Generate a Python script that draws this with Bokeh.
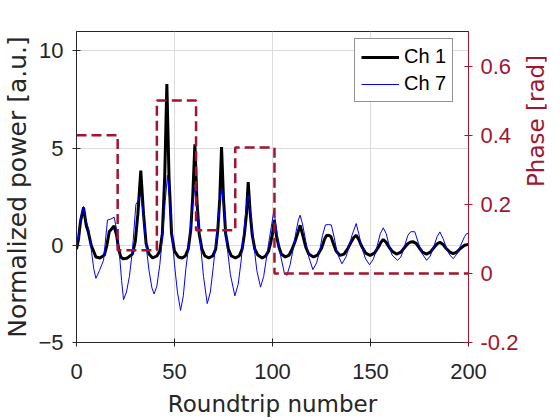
import math
from bokeh.plotting import figure
from bokeh.models import Range1d, LinearAxis, Legend, LegendItem, FixedTicker
from bokeh.embed import file_html
from bokeh.resources import INLINE

# ---- data ----
roundtrip_ch1 = [0, 1, 2, 3.6, 5, 6, 7.5, 9.9, 12, 14.2, 15.5, 16.7, 18, 19.2, 20.5, 21.5, 22.6, 24, 26,
                 28.5, 30, 31.3, 32.8, 34.2, 35.5, 37, 38.8, 41, 42.5, 43.8, 45, 46.1, 47.2, 48.5, 50, 52,
                 53.9, 55.5, 57, 58.3, 59.3, 60.4, 61.5, 62.6, 64, 65.5, 67.5, 69.5, 71, 72.1, 73.1, 74, 75,
                 76.1, 77.5, 79, 81.1, 83, 84.5, 85.7, 86.7, 87.6, 88.6, 89.7, 91, 92.5, 94.7, 96.5, 98, 99,
                 100, 100.9, 102, 103.3, 104.5, 106.5, 108.5, 110, 111.5, 112.8, 114.1, 115.5, 117, 118.5,
                 120.9, 123, 125, 126.5, 127.5, 128.6, 129.8, 131, 132.5, 134.5, 136.5, 138.5, 140, 141.5,
                 142.7, 144, 145.5, 147.5, 149.8, 152, 154, 155.3, 156.5, 158, 159.5, 161, 163.3, 165.5,
                 167.5, 169, 170.5, 171.8, 173.3, 175, 176.5, 178.6, 180.5, 182.5, 184, 185.4, 187, 188.5,
                 190.5, 192.2, 194, 196, 198, 200]
power_ch1 = [-0.2, 0.3, 1.2, 1.95, 1.0, 0.7, 0.0, -0.6, -0.65, -0.5, 0.0, 0.7, 0.85, 1.0, 0.5, -0.2, -0.6, -0.7, -0.65,
             -0.45, 0.2, 1.6, 3.85, 1.6, 0.1, -0.45, -0.65, -0.55, -0.3, 0.6, 3.5, 8.3, 3.5, 0.6, -0.3, -0.6,
             -0.65, -0.55, -0.2, 0.8, 2.5, 5.2, 2.2, 0.6, -0.2, -0.55, -0.65, -0.55, -0.2, 0.8, 2.4, 5.05, 2.4,
             0.6, -0.2, -0.55, -0.65, -0.55, -0.2, 0.6, 1.6, 3.25, 1.7, 0.5, -0.2, -0.5, -0.65, -0.55, -0.3, 0.1,
             0.6, 1.3, 0.5, -0.1, -0.45, -0.6, -0.5, -0.2, 0.2, 0.6, 1.03, 0.5, -0.1, -0.45,
             -0.6, -0.5, -0.15, 0.3, 0.5, 0.52, 0.45, 0.1, -0.3, -0.52, -0.45, -0.15, 0.15, 0.4,
             0.52, 0.3, -0.05, -0.4, -0.52, -0.4, -0.1, 0.15, 0.3, 0.15, -0.1, -0.3, -0.45, -0.35,
             -0.1, 0.08, 0.17, 0.18, 0.1, -0.15, -0.35, -0.45, -0.35, -0.1, 0.08, 0.15, 0.05, -0.15,
             -0.35, -0.43, -0.35, -0.15, 0.0, 0.05]

roundtrip_ch7 = [0, 1, 2, 3.6, 4.8, 6.3, 7.5, 8.8, 9.9, 11.7, 13.8, 15.8, 17.5, 19.2, 20.5, 21.8, 23, 24, 25.5,
                 27, 28.5, 30.3, 31.5, 32.8, 34, 35.5, 37, 38.5, 39.6, 41, 42.5, 44, 45.3, 46.4, 47.5, 48.8,
                 50, 51.5, 53.1, 54.5, 55.8, 57.3, 58.8, 60.4, 61.7, 63.3, 64.8, 66.7, 68.3, 69.8, 71.3, 72.8,
                 74, 75.3, 76.8, 78.5, 80.8, 82.5, 84, 85.5, 86.6, 87.6, 88.8, 90.3, 92, 93.9, 95.5, 97, 98.5,
                 99.8, 100.7, 101.8, 103, 104.5, 106, 107.3, 109, 110.5, 112, 113.2, 114.1, 115.3, 117, 118.5,
                 120.6, 122.5, 124, 125.5, 127, 128.5, 130, 131.5, 133, 135.4, 137.5, 139, 140.5, 142.7, 144,
                 145.5, 147.5, 149.5, 151.5, 153.5, 155, 156.5, 158, 159.5, 161, 163.8, 165.5, 167.5, 169,
                 170.5, 172.6, 174.5, 176.5, 178.6, 180.5, 182.5, 184, 185.4, 187, 189, 190.5, 192.2, 194,
                 196, 198, 199, 200]
power_ch7 = [-0.1, 0.4, 1.4, 2.0, 1.3, 0.8, -0.2, -1.2, -1.7, -1.3, -0.77, 1.3, 1.35, 1.45, 0.8, -0.3, -1.8, -2.8, -2.4,
             -1.6, -0.3, 2.1, 2.3, 2.6, 1.6, 0.0, -1.3, -2.2, -2.5, -2.1, -1.0, 0.6, 2.3, 3.6, 2.4, 0.5,
             -1.0, -2.4, -3.35, -2.6, -1.2, 0.0, 1.7, 3.0, 1.7, 0.0, -1.6, -3.0, -2.4, -1.1, 0.3, 1.9,
             3.0, 1.8, 0.0, -1.5, -2.6, -2.0, -0.8, 0.8, 2.0, 2.6, 1.7, 0.2, -1.3, -2.15, -1.6, -0.6, 0.4,
             1.2, 1.8, 1.0, 0.1, -0.7, -1.4, -1.55, -1.0, -0.2, 0.7, 1.3, 1.55, 1.1, 0.2, -0.6,
             -1.25, -0.9, -0.3, 0.5, 1.05, 1.07, 1.05, 0.4, -0.4, -0.95, -0.6, -0.1, 0.5, 1.12, 0.6,
             -0.1, -0.7, -1.0, -0.7, 0.0, 0.6, 0.9, 0.6, 0.0, -0.5, -0.77, -0.6, 0.0, 0.5,
             0.7, 0.7, 0.1, -0.45, -0.77, -0.55, 0.0, 0.45, 0.69, 0.35, -0.2, -0.5, -0.69, -0.45,
             0.0, 0.45, 0.6, 0.6]

phase_roundtrip = [0, 21, 41, 61, 81, 101, 200]
phase_rad = [0.4, 0.067, 0.5, 0.125, 0.364, 0.0, 0.0]

x_ticks = [0, 50, 100, 150, 200]
power_ticks = [-5, 0, 5, 10]
phase_ticks = [-0.2, 0, 0.2, 0.4, 0.6]
phase_tick_labels = ["-0.2", "0", "0.2", "0.4", "0.6"]

# ---- styling ----
DARK = "#262626"
RED = "#A2142F"
TICK_FONT = "Liberation Sans"
LABEL_FONT = "DejaVu Sans"

p = figure(frame_width=392, frame_height=311,
           x_range=Range1d(0, 200), y_range=Range1d(-5, 11),
           output_backend="svg", toolbar_location=None,
           min_border_left=70, min_border_right=92, min_border_top=31, min_border_bottom=80)
p.background_fill_color = "white"
p.border_fill_color = "white"
p.outline_line_color = DARK
p.outline_line_width = 1

p.extra_y_ranges = {"phase": Range1d(-0.2, 0.7)}

# grids
p.xgrid.ticker = FixedTicker(ticks=x_ticks)
p.ygrid.ticker = FixedTicker(ticks=power_ticks)
p.grid.grid_line_color = "#dcdcdc"
p.grid.grid_line_width = 1

xa = p.xaxis[0]
xa.ticker = FixedTicker(ticks=x_ticks)
xa.axis_label = "Roundtrip number"
ya = p.yaxis[0]
ya.ticker = FixedTicker(ticks=power_ticks)
ya.axis_label = "Normalized power [a.u.]"

for ax in (xa, ya):
    ax.axis_line_color = DARK
    ax.major_tick_line_color = DARK
    ax.major_tick_in = 4
    ax.major_tick_out = 4
    ax.minor_tick_line_color = None
    ax.major_label_text_font = TICK_FONT
    ax.major_label_text_font_size = "22px"
    ax.major_label_text_color = DARK
    ax.axis_label_text_font = LABEL_FONT
    ax.axis_label_text_font_style = "normal"
    ax.axis_label_text_color = DARK

xa.major_label_standoff = 17
xa.axis_label_text_font_size = "23px"
xa.axis_label_standoff = 9
ya.major_label_standoff = 9
ya.axis_label_text_font_size = "25px"
ya.axis_label_standoff = 3

# right axis (phase)
ra = LinearAxis(y_range_name="phase", axis_label="Phase [rad]")
ra.ticker = FixedTicker(ticks=phase_ticks)
ra.major_label_overrides = {t: s for t, s in zip(phase_ticks, phase_tick_labels)}
ra.axis_line_color = RED
ra.major_tick_line_color = RED
ra.major_tick_in = 4
ra.major_tick_out = 4
ra.minor_tick_line_color = None
ra.major_label_text_font = TICK_FONT
ra.major_label_text_font_size = "22px"
ra.major_label_text_color = RED
ra.major_label_standoff = 8
ra.axis_label_text_font = LABEL_FONT
ra.axis_label_text_font_size = "23px"
ra.axis_label_text_font_style = "normal"
ra.axis_label_text_color = RED
ra.axis_label_standoff = 15
if "axis_label_orientation" in ra.properties():
    ra.axis_label_orientation = math.pi / 2
p.add_layout(ra, "right")

# data lines
r1 = p.line(roundtrip_ch1, power_ch1, line_color="black", line_width=3)
r7 = p.line(roundtrip_ch7, power_ch7, line_color="#0000FF", line_width=1)
rp = p.step(phase_roundtrip, phase_rad, mode="after", y_range_name="phase",
            line_color=RED, line_width=2.5, line_dash="10 5")

legend = Legend(items=[LegendItem(label="Ch 1", renderers=[r1]),
                       LegendItem(label="Ch 7", renderers=[r7])],
                location=(278, 240))
legend.glyph_width = 38
legend.glyph_height = 22
legend.label_height = 22
legend.label_standoff = 5
legend.padding = 6
legend.spacing = 4
legend.margin = 0
legend.border_line_color = DARK
legend.border_line_width = 1
legend.background_fill_alpha = 1
legend.label_text_font = TICK_FONT
legend.label_text_font_size = "20px"
legend.label_text_color = "black"
p.add_layout(legend)

open("out.html", "w").write(file_html(p, INLINE))
